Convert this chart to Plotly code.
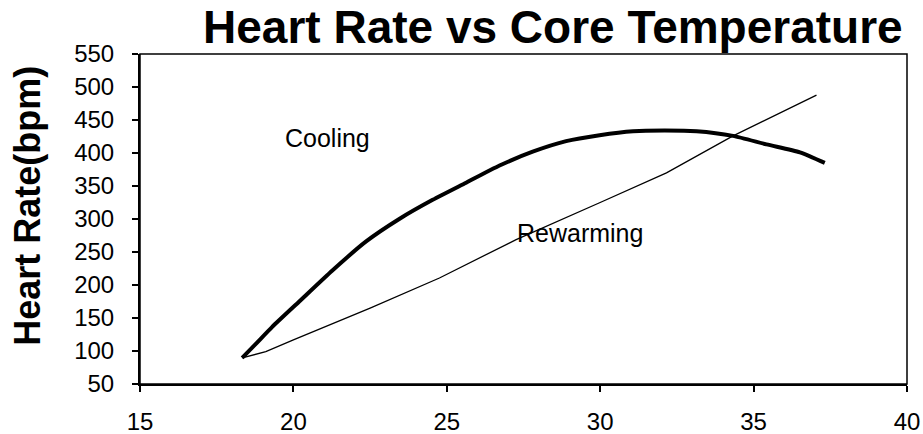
import plotly.graph_objects as go

# Cooling curve (thick)
cool_temp = [18.33, 18.8, 19.31, 20.19, 21.27, 22.37, 23.45, 24.54, 25.63, 26.72,
             27.80, 28.89, 29.98, 31.07, 32.1, 33.14, 34.33, 35.42, 36.51, 37.32]
cool_hr = [89.5, 112, 136.6, 175, 222, 266, 300, 329, 355, 381,
           402, 418, 427, 433, 434, 433, 426, 413, 401, 385]

# Rewarming curve (thin)
rew_temp = [18.33, 19.1, 20.0, 20.84, 22.5, 24.76, 27.26, 29.98, 30.53, 32.16, 34.33, 37.05]
rew_hr = [89.5, 99, 117, 133, 165, 210.6, 268.8, 324.6, 336, 370, 426, 487.7]

x_ticks = [15, 20, 25, 30, 35, 40]
y_ticks = [50, 100, 150, 200, 250, 300, 350, 400, 450, 500, 550]

FONT = "Liberation Sans, Arial, sans-serif"

fig = go.Figure()
fig.add_trace(go.Scatter(x=cool_temp, y=cool_hr, mode="lines",
                         line=dict(color="black", width=4, shape="spline", smoothing=0.6),
                         name="Cooling", showlegend=False))
fig.add_trace(go.Scatter(x=rew_temp, y=rew_hr, mode="lines",
                         line=dict(color="black", width=1.3),
                         name="Rewarming", showlegend=False))

fig.add_annotation(x=19.66, y=423, text="Cooling", showarrow=False, xanchor="left",
                   yanchor="middle", font=dict(family=FONT, size=25, color="black"))
fig.add_annotation(x=27.22, y=279, text="Rewarming", showarrow=False, xanchor="left",
                   yanchor="middle", font=dict(family=FONT, size=25, color="black"))

# Y axis title as annotation
fig.add_annotation(xref="paper", yref="paper", x=-0.146, y=0.54, text="<b>Heart Rate(bpm)</b>",
                   textangle=-90, showarrow=False, xanchor="center", yanchor="middle",
                   font=dict(family=FONT, size=36, color="black"))

# frame
fig.add_shape(type="rect", xref="x domain", yref="y domain", x0=0, x1=1, y0=0, y1=1,
              line=dict(color="black", width=1.5))

fig.update_layout(
    width=923, height=434,
    margin=dict(l=140, r=16, t=54, b=50),
    paper_bgcolor="white", plot_bgcolor="white",
    title=dict(text="<b>Heart Rate vs Core Temperature</b>", x=0.599, xanchor="center",
               y=0.901, yref="container", yanchor="bottom",
               font=dict(family=FONT, size=46, color="black"), automargin=False),
    xaxis=dict(range=[15, 40], tickvals=x_ticks, ticks="outside", ticklen=6, tickwidth=1.5,
               tickcolor="black", showline=True, linecolor="black", linewidth=2,
               showgrid=False, zeroline=False, ticklabelstandoff=9, automargin=False,
               tickfont=dict(family=FONT, size=24, color="black")),
    yaxis=dict(range=[50, 550], tickvals=y_ticks, ticks="outside", ticklen=6, tickwidth=1.5,
               tickcolor="black", showline=True, linecolor="black", linewidth=2,
               showgrid=False, zeroline=False, ticklabelstandoff=13, automargin=False,
               tickfont=dict(family=FONT, size=24, color="black")),
)

fig.write_html("out.html", config={"displayModeBar": False},
               post_script="document.body.style.margin='0';document.body.style.overflow='hidden';")
